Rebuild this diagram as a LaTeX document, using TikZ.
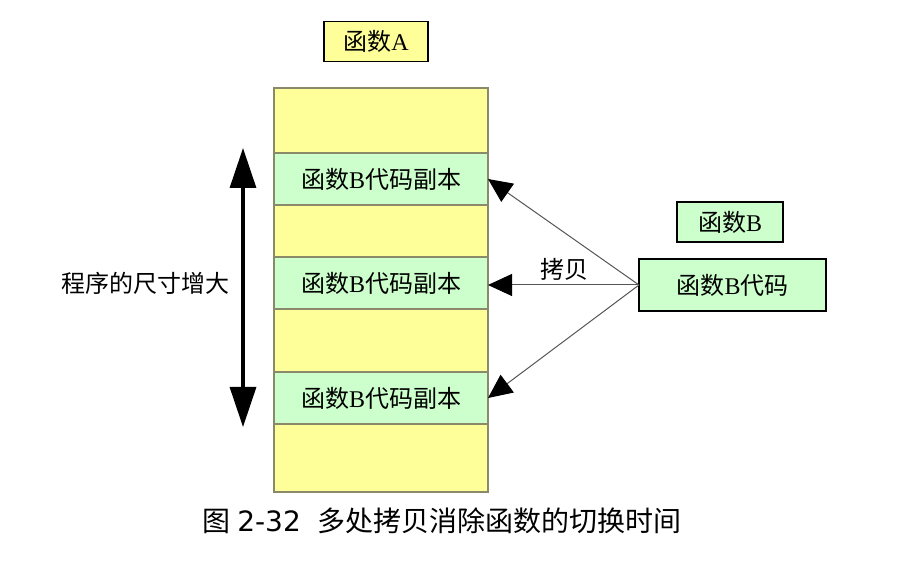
\documentclass[tikz,border=0pt]{standalone}
\usepackage{fontspec}
\setmainfont{Liberation Serif}
\newfontfamily\cjk{Noto Sans CJK SC}
\newfontfamily\capfont{DejaVu Sans}
\usepackage{tikz}
\usetikzlibrary{arrows.meta, positioning}
\definecolor{memyellow}{HTML}{FFFF99}
\definecolor{memgreen}{HTML}{CCFFCC}
\definecolor{bandline}{HTML}{8A8A6A}
\definecolor{copyline}{HTML}{555555}
\newcommand{\zh}[1]{{\cjk #1}}

\begin{document}
\begin{tikzpicture}[
    x=0.5pt, y=-0.5pt,
    every node/.style={font=\fontsize{12}{14}\selectfont, inner sep=0pt, outer sep=0pt},
    yband/.style={rectangle, draw=bandline, fill=memyellow, minimum width=107pt, line width=0.6pt},
    gband/.style={rectangle, draw=bandline, fill=memgreen, minimum width=107pt,
                  minimum height=26pt, line width=0.6pt},
    titlebox/.style={rectangle, draw=black, line width=0.6pt, minimum height=20pt},
    copyarrow/.style={-{Triangle[length=12pt, width=11pt, color=black]}, line width=0.5pt,
                      color=copyline},
    sizearrow/.style={{Triangle[length=20pt, width=13pt]}-{Triangle[length=20pt, width=13pt]},
                      line width=1.6pt}
]
\useasboundingbox (0,0) rectangle (903,565);

% program memory of function A
\node[titlebox, fill=memyellow, minimum width=52pt] (fa) at (376,41.5) {\zh{函数}A};

\node[yband, minimum height=32.5pt] (c1) at (381,120.5) {};
\node[gband, below=0pt of c1] (c2) {\zh{函数}B\zh{代码副本}};
\node[yband, minimum height=26pt, below=0pt of c2] (c3) {};
\node[gband, below=0pt of c3] (c4) {\zh{函数}B\zh{代码副本}};
\node[yband, minimum height=31.5pt, below=0pt of c4] (c5) {};
\node[gband, below=0pt of c5] (c6) {\zh{函数}B\zh{代码副本}};
\node[yband, minimum height=34pt, below=0pt of c6] (c7) {};

% function B
\node[titlebox, fill=memgreen, minimum width=53pt] (fb) at (730,222) {\zh{函数}B};
\node[titlebox, fill=memgreen, minimum width=93.5pt, minimum height=26pt]
    (code) at (732.5,285) {\zh{函数}B\zh{代码}};

\draw[copyarrow] (code.west) -- (c2.east);
\draw[copyarrow] (code.west) -- (c4.east |- code.west);
\draw[copyarrow] (code.west) -- (c6.east);
\node (copy) at (564,269) {\zh{拷贝}};

% size of the program
\coordinate (grow top) at (243,148);
\coordinate (grow bot) at (243,427);
\draw[sizearrow] (grow top) -- (grow bot);
\node (grow) at (145,283) {\zh{程序的尺寸增大}};

\node[font=\fontsize{14}{17}\selectfont] (cap) at (442,521)
    {\zh{图} {\capfont 2-32}\hspace{0.6em}\zh{多处拷贝消除函数的切换时间}};

\end{tikzpicture}
\end{document}
